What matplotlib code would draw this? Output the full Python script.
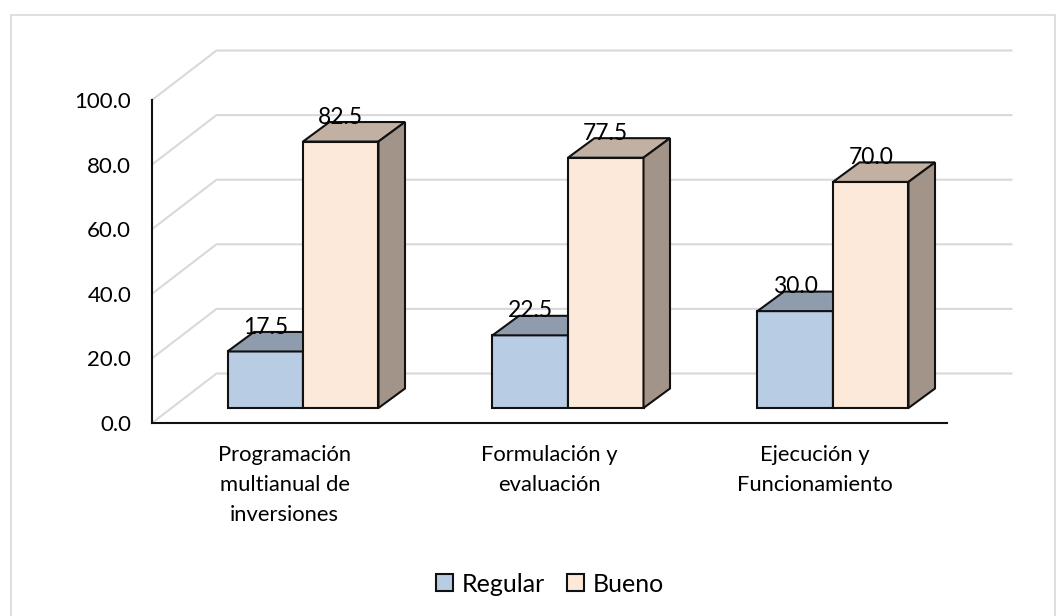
import matplotlib.pyplot as plt
from matplotlib.patches import Patch, Polygon, Rectangle

categories = ["Programación\nmultianual de\ninversiones", "Formulación y\nevaluación", "Ejecución y\nFuncionamiento"]
regular = [17.5, 22.5, 30.0]
bueno = [82.5, 77.5, 70.0]
y_ticks = [0, 20, 40, 60, 80, 100]

W, H = 1064, 616
plt.rcParams["font.family"] = ["Lato", "DejaVu Sans"]

# fake 3d offsets, in data units (px / scale)
X_SCALE = 265.0
Y_SCALE = 3.23
WALL_DX = 64.5 / X_SCALE
WALL_DY = 49.5 / Y_SCALE
BAR_DX = 26.5 / X_SCALE
BAR_DY = 19.5 / Y_SCALE
BASE_DX = 18.5 / X_SCALE
BASE_DY = 15.0 / Y_SCALE
BAR_W = 75.5 / X_SCALE


def draw_box(ax, left, value, front, top, side):
    x0 = left + BASE_DX
    x1 = x0 + BAR_W
    y0 = BASE_DY
    y1 = BASE_DY + value
    faces = [
        ([(x0, y0), (x1, y0), (x1, y1), (x0, y1)], front),
        ([(x0, y1), (x1, y1), (x1 + BAR_DX, y1 + BAR_DY), (x0 + BAR_DX, y1 + BAR_DY)], top),
        ([(x1, y0), (x1 + BAR_DX, y0 + BAR_DY), (x1 + BAR_DX, y1 + BAR_DY), (x1, y1)], side),
    ]
    for pts, color in faces:
        ax.add_patch(Polygon(pts, closed=True, facecolor=color, edgecolor="#111111",
                             linewidth=1.5, joinstyle="miter", zorder=3, clip_on=False))
    ax.text((x0 + x1) / 2, y1 + BAR_DY + 1.5, f"{value:.1f}", ha="center", va="center",
            fontsize=16.5, color="black", zorder=4, clip_on=False)


fig = plt.figure(figsize=(W / 100, H / 100), dpi=100)
# frame runs off the bottom of the picture
fig.patches.append(Rectangle((10.5 / W, -10 / H), 1044 / W, (H + 10 - 14.5) / H, transform=fig.transFigure,
                             facecolor="white", edgecolor="#d9d9d9", linewidth=1.2, zorder=-1))

ax = fig.add_axes([152 / W, (H - 423) / H, 795 / W, 323 / H])
ax.patch.set_alpha(0)
ax.set_xlim(0, 3)
ax.set_ylim(0, 100)

for t in y_ticks:
    ax.plot([0, WALL_DX, 3 + WALL_DX], [t, t + WALL_DY, t + WALL_DY], color="#d9d9d9",
            linewidth=1.5, zorder=1, clip_on=False, solid_joinstyle="miter")

for i in range(len(categories)):
    center = i + 0.5
    draw_box(ax, center - BAR_W, regular[i], "#b8cce4", "#8e9cae", "#7f8fa3")
    draw_box(ax, center, bueno[i], "#fde9d9", "#c2b1a3", "#a29488")

ax.set_yticks(y_ticks)
ax.set_yticklabels([f"{t:.1f}" for t in y_ticks], fontsize=16)
ax.set_xticks([i + 0.5 for i in range(len(categories))])
ax.set_xticklabels(categories, fontsize=15.8, linespacing=1.62)
ax.tick_params(axis="y", length=0, pad=15)
ax.tick_params(axis="x", length=0, pad=16)

for name in ["top", "right"]:
    ax.spines[name].set_visible(False)
for name in ["left", "bottom"]:
    ax.spines[name].set_linewidth(1.5)
    ax.spines[name].set_color("#111111")

handles = [Patch(facecolor="#b8cce4", edgecolor="#111111", linewidth=1.5, label="Regular"),
           Patch(facecolor="#fde9d9", edgecolor="#111111", linewidth=1.5, label="Bueno")]
fig.legend(handles=handles, loc="center", bbox_to_anchor=(550 / W, 1 - 584 / H), ncol=2, frameon=False,
           fontsize=18, handlelength=0.68, handleheight=0.68, handletextpad=0.35, columnspacing=0.9)

fig.savefig("out.png", dpi=100)
